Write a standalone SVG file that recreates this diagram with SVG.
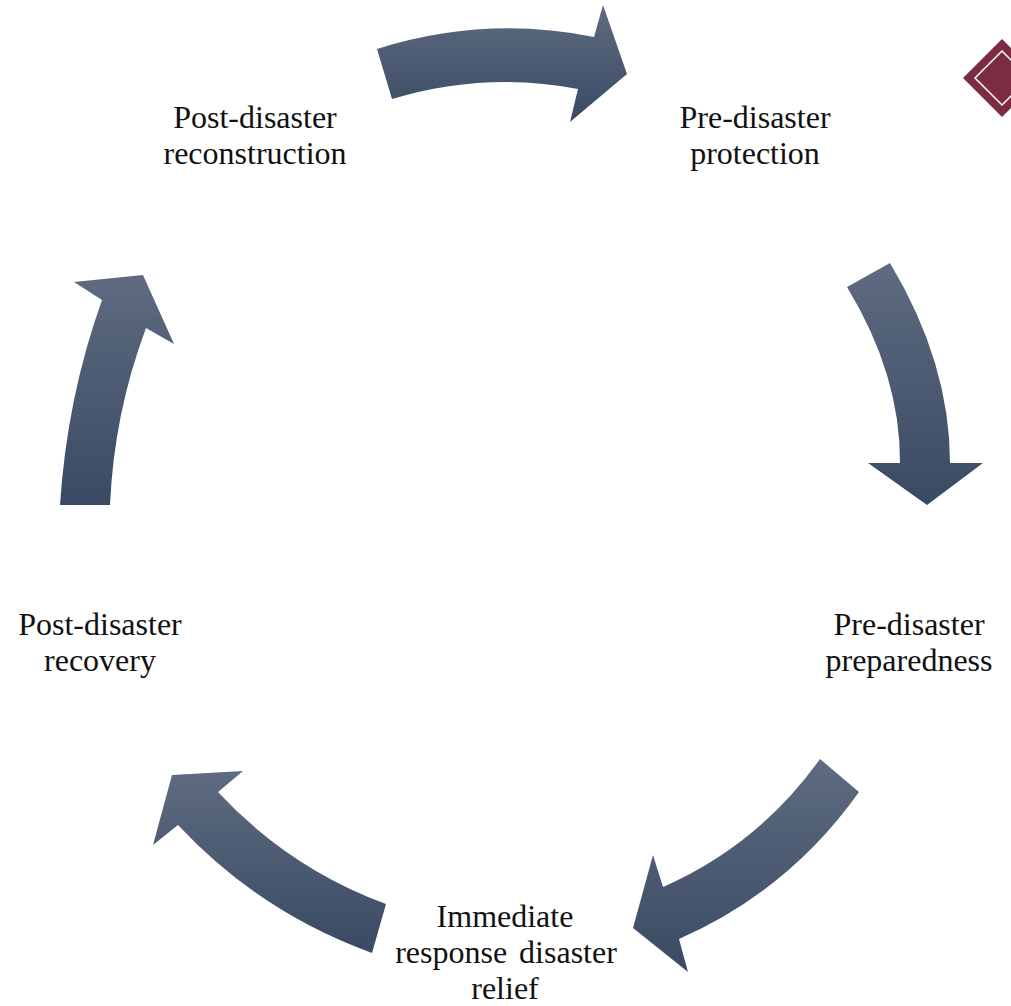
<svg xmlns="http://www.w3.org/2000/svg" width="1011" height="1006" viewBox="0 0 1011 1006">
<defs>
<linearGradient id="g" x1="0" y1="0" x2="0" y2="1">
<stop offset="0" stop-color="#5e6b80"/>
<stop offset="1" stop-color="#3a4a64"/>
</linearGradient>
<style>
.arrow{fill:url(#g);stroke:none}
.lbl{font-family:"Liberation Serif","Times New Roman",serif;font-size:32px;fill:#111;text-anchor:middle}
</style>
</defs>
<rect width="1011" height="1006" fill="#ffffff"/>
<g id="connectors">
<path id="arrow1" class="arrow" d="M377,49 Q484.5,15 594,37 L603,5 L627,74 L570,122 L578,89 Q485,71 392,99 Z"/>
<path id="arrow2" class="arrow" d="M890,263 Q950,363 950,463 L983,463 L927,505 L868,463 L900,463 Q900.5,375 847,287 Z"/>
<path id="arrow3" class="arrow" d="M859,792 Q789,890.5 679,939 L688,972 L633,928 L653,855 L663,887 Q758.5,845 820,759 Z"/>
<path id="arrow4" class="arrow" d="M372,953 Q259.6,912.4 178,825 L153,845 L172,775 L243,771 L218,792 Q288.6,868 386,904 Z"/>
<path id="arrow5" class="arrow" d="M60,505 Q67,397.5 102,300 L74,282 L143,275 L174,344 L146,328 Q114,413.5 110,505 Z"/>
</g>
<g id="node-reconstruction">
<text class="lbl" x="255" y="128">Post-disaster</text>
<text class="lbl" x="255" y="164">reconstruction</text>
</g>
<g id="node-protection">
<text class="lbl" x="755" y="128">Pre-disaster</text>
<text class="lbl" x="755" y="164">protection</text>
</g>
<g id="node-preparedness">
<text class="lbl" x="909" y="635">Pre-disaster</text>
<text class="lbl" x="909" y="671">preparedness</text>
</g>
<g id="node-relief">
<text class="lbl" x="505" y="927">Immediate</text>
<text class="lbl" x="506" y="963" word-spacing="4">response disaster</text>
<text class="lbl" x="505" y="999">relief</text>
</g>
<g id="node-recovery">
<text class="lbl" x="100" y="635">Post-disaster</text>
<text class="lbl" x="100" y="671">recovery</text>
</g>
<g id="decor-diamond">
<path d="M1002,39 L1041,78 L1002,117 L963,78 Z" fill="#7b2c43"/>
<path d="M1002,51 L1029,78 L1002,105 L975,78 Z" fill="none" stroke="#ffffff" stroke-width="1.5"/>
</g>
</svg>
